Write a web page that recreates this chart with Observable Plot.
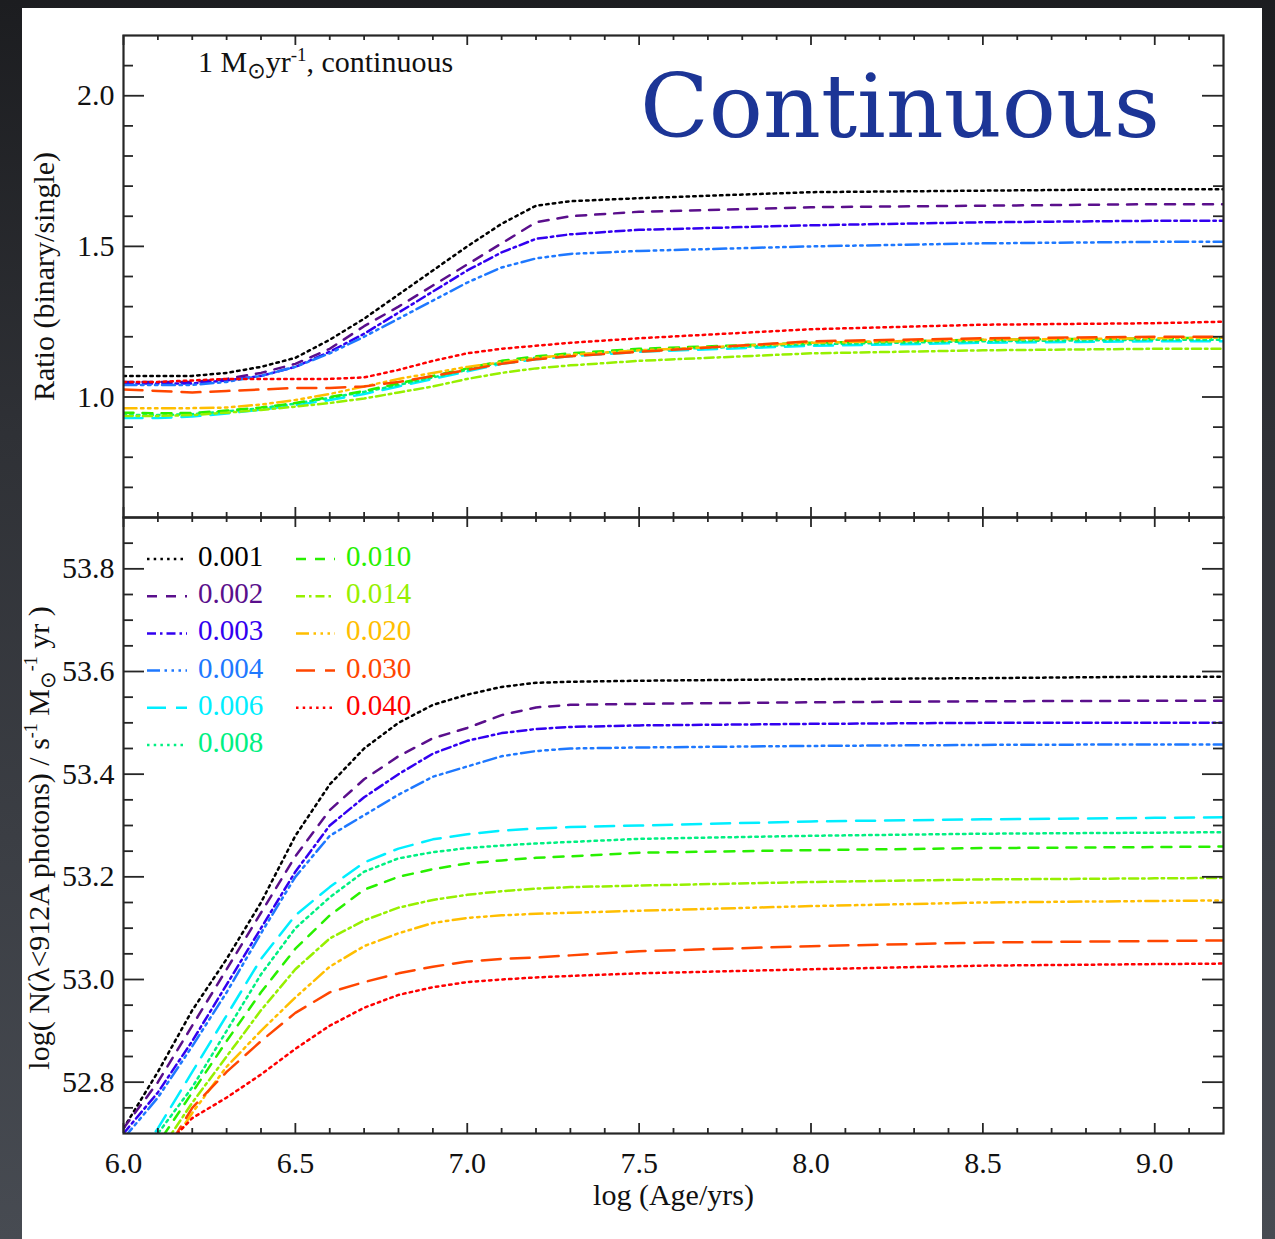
<!DOCTYPE html>
<html><head><meta charset="utf-8">
<script src="https://cdn.jsdelivr.net/npm/d3@7"></script>
<script src="https://cdn.jsdelivr.net/npm/@observablehq/plot@0.6"></script>
<style>
html,body{margin:0;padding:0;width:1275px;height:1239px;overflow:hidden;background:linear-gradient(#1c1d20,#2f3136 35%,#474b52);}
#paper{position:absolute;left:22px;top:8px;width:1240px;height:1231px;background:#fff;}
#bottom,#top{position:absolute;left:0;top:0;}
</style></head><body>
<div id="paper"></div><div id="bottom"></div><div id="top"></div>
<script>
// ---------------- data ----------------
const ages = [6.0,6.1,6.2,6.3,6.4,6.5,6.6,6.7,6.8,6.9,7.0,7.1,7.2,7.3,7.5,8.0,8.5,9.0,9.2];
const metallicities = ["0.001","0.002","0.003","0.004","0.006","0.008","0.010","0.014","0.020","0.030","0.040"];
const lineColors = ["#000000","#5a0f8c","#3200f0","#1e78ff","#00eeff","#00f082","#28f000","#96f000","#ffbe00","#ff4600","#ff0000"];
const lineStyles = ["dot","dash","dashdot","dash3dot","longdash","dot","dash","dashdot","dash3dot","longdash","dot"];

// Ratio (binary/single)
const ratioZ001 = [1.07,1.07,1.07,1.08,1.10,1.13,1.19,1.26,1.34,1.42,1.50,1.575,1.635,1.65,1.66,1.68,1.685,1.69,1.69];
const ratioZ002 = [1.05,1.05,1.05,1.06,1.08,1.11,1.16,1.235,1.30,1.37,1.44,1.51,1.58,1.60,1.615,1.63,1.635,1.64,1.64];
const ratioZ003 = [1.045,1.045,1.045,1.055,1.07,1.10,1.15,1.21,1.28,1.35,1.42,1.48,1.525,1.54,1.555,1.57,1.58,1.585,1.585];
const ratioZ004 = [1.04,1.04,1.04,1.05,1.07,1.10,1.145,1.20,1.26,1.32,1.38,1.43,1.46,1.475,1.485,1.50,1.51,1.515,1.515];
const ratioZ006 = [0.93,0.93,0.935,0.945,0.958,0.973,0.99,1.01,1.035,1.06,1.085,1.11,1.125,1.135,1.15,1.17,1.18,1.185,1.185];
const ratioZ008 = [0.94,0.94,0.943,0.952,0.963,0.978,0.997,1.017,1.04,1.065,1.09,1.115,1.13,1.14,1.155,1.175,1.185,1.19,1.19];
const ratioZ010 = [0.948,0.946,0.947,0.955,0.965,0.98,1.0,1.02,1.045,1.07,1.095,1.12,1.135,1.145,1.16,1.18,1.19,1.195,1.197];
const ratioZ014 = [0.937,0.937,0.94,0.948,0.957,0.968,0.98,0.995,1.015,1.035,1.06,1.08,1.095,1.105,1.12,1.145,1.155,1.16,1.16];
const ratioZ020 = [0.963,0.963,0.963,0.965,0.975,0.99,1.01,1.035,1.06,1.08,1.10,1.115,1.13,1.14,1.155,1.18,1.19,1.195,1.197];
const ratioZ030 = [1.025,1.02,1.015,1.02,1.025,1.03,1.03,1.035,1.05,1.07,1.09,1.11,1.125,1.135,1.15,1.185,1.195,1.20,1.20];
const ratioZ040 = [1.05,1.05,1.055,1.06,1.06,1.06,1.06,1.065,1.09,1.12,1.145,1.16,1.17,1.18,1.195,1.225,1.24,1.245,1.25];

// log N(ionising photons)
const photZ001 = [52.71,52.82,52.94,53.04,53.15,53.28,53.38,53.45,53.50,53.535,53.555,53.57,53.578,53.58,53.582,53.585,53.587,53.59,53.59];
const photZ002 = [52.71,52.80,52.91,53.02,53.13,53.24,53.33,53.39,53.435,53.47,53.49,53.515,53.53,53.535,53.537,53.54,53.542,53.543,53.543];
const photZ003 = [52.70,52.78,52.88,52.99,53.10,53.21,53.30,53.355,53.40,53.44,53.465,53.48,53.488,53.492,53.495,53.498,53.50,53.50,53.50];
const photZ004 = [52.69,52.77,52.87,52.975,53.09,53.20,53.28,53.32,53.36,53.395,53.415,53.435,53.445,53.45,53.452,53.455,53.457,53.458,53.458];
const photZ006 = [52.61,52.71,52.82,52.93,53.04,53.125,53.18,53.228,53.255,53.273,53.283,53.29,53.294,53.297,53.30,53.308,53.312,53.315,53.316];
const photZ008 = [52.59,52.70,52.79,52.90,53.01,53.10,53.16,53.21,53.236,53.248,53.256,53.261,53.265,53.268,53.274,53.28,53.284,53.286,53.287];
const photZ010 = [52.57,52.68,52.78,52.88,52.975,53.06,53.125,53.175,53.20,53.215,53.226,53.232,53.237,53.24,53.247,53.252,53.256,53.258,53.259];
const photZ014 = [52.55,52.66,52.76,52.85,52.94,53.02,53.08,53.115,53.14,53.155,53.165,53.172,53.177,53.18,53.183,53.19,53.195,53.197,53.198];
const photZ020 = [52.53,52.64,52.74,52.83,52.90,52.965,53.025,53.065,53.09,53.11,53.12,53.125,53.128,53.13,53.134,53.143,53.15,53.153,53.154];
const photZ030 = [52.54,52.64,52.75,52.82,52.88,52.935,52.975,52.995,53.012,53.025,53.035,53.04,53.043,53.047,53.055,53.065,53.072,53.075,53.076];
const photZ040 = [52.55,52.66,52.73,52.77,52.815,52.865,52.91,52.945,52.97,52.985,52.995,53.0,53.004,53.007,53.012,53.02,53.027,53.03,53.031];

// ticks
const xMajorTicks = [6.0,6.5,7.0,7.5,8.0,8.5,9.0];
const xMinorTicks = [6.1,6.2,6.3,6.4,6.6,6.7,6.8,6.9,7.1,7.2,7.3,7.4,7.6,7.7,7.8,7.9,8.1,8.2,8.3,8.4,8.6,8.7,8.8,8.9,9.1];
const ratioMajorTicks = [1.0,1.5,2.0];
const ratioMinorTicks = [0.7,0.8,0.9,1.1,1.2,1.3,1.4,1.6,1.7,1.8,1.9,2.1];
const photMajorTicks = [52.8,53.0,53.2,53.4,53.6,53.8];
const photMinorTicks = [52.75,52.85,52.9,52.95,53.05,53.1,53.15,53.25,53.3,53.35,53.45,53.5,53.55,53.65,53.7,53.75,53.85];

// ---------------- styling ----------------
const dashPatterns = {dot:"2.5,4.2", dash:"10,9", dashdot:"9,4,2.5,4", dash3dot:"13,4.5,2.5,4.5,2.5,4.5,2.5,4.5", longdash:"19,10"};
const ratioSeries = [ratioZ001,ratioZ002,ratioZ003,ratioZ004,ratioZ006,ratioZ008,ratioZ010,ratioZ014,ratioZ020,ratioZ030,ratioZ040];
const photSeries = [photZ001,photZ002,photZ003,photZ004,photZ006,photZ008,photZ010,photZ014,photZ020,photZ030,photZ040];
const serif = "'Liberation Serif','Times New Roman',serif";
const W = 1275, LEFT = 123, RIGHT = 1223;
const xDom = [6, 9.2];
const pxPerX = (RIGHT-LEFT)/(xDom[1]-xDom[0]);
const frameColor = "#262626";

function lineMarks(series) {
  return series.map((vals, i) => Plot.line(ages.map((a, j) => ({age: a, v: vals[j]})), {
    x: "age", y: "v", stroke: lineColors[i], strokeWidth: 2.5,
    strokeDasharray: dashPatterns[lineStyles[i]], clip: true, curve: "linear"
  }));
}
function tickMarks(yDom, pxPerY, yMaj, yMin) {
  const yl = v => v/pxPerX, xl = v => v/pxPerY;
  const st = {stroke: frameColor, strokeWidth: 1.8};
  return [
    Plot.ruleY(yMaj, {y: d=>d, x1: xDom[0], x2: xDom[0]+yl(21), ...st}),
    Plot.ruleY(yMin, {y: d=>d, x1: xDom[0], x2: xDom[0]+yl(10), ...st}),
    Plot.ruleY(yMaj, {y: d=>d, x1: xDom[1]-yl(21), x2: xDom[1], ...st}),
    Plot.ruleY(yMin, {y: d=>d, x1: xDom[1]-yl(10), x2: xDom[1], ...st}),
    Plot.ruleX(xMajorTicks, {x: d=>d, y1: yDom[0], y2: yDom[0]+xl(10), ...st}),
    Plot.ruleX(xMinorTicks, {x: d=>d, y1: yDom[0], y2: yDom[0]+xl(5), ...st}),
    Plot.ruleX(xMajorTicks, {x: d=>d, y1: yDom[1]-xl(10), y2: yDom[1], ...st}),
    Plot.ruleX(xMinorTicks, {x: d=>d, y1: yDom[1]-xl(5), y2: yDom[1], ...st}),
  ];
}

// ---------------- top panel ----------------
const topDom = [0.6, 2.2];
const topPlot = Plot.plot({
  width: W, height: 530, marginLeft: LEFT, marginRight: W-RIGHT, marginTop: 35, marginBottom: 13,
  x: {domain: xDom, axis: null},
  y: {domain: topDom},
  style: {fontFamily: serif, fontSize: "30px", background: "transparent", overflow: "visible", color: "#111"},
  marks: [
    ...lineMarks(ratioSeries),
    ...tickMarks(topDom, 482/(topDom[1]-topDom[0]), ratioMajorTicks, ratioMinorTicks),
    Plot.axisY({ticks: ratioMajorTicks, tickSize: 0, tickPadding: 9, tickFormat: d=>d.toFixed(1), label: null, fontSize: 30, fontFamily: serif}),
    Plot.text(["Ratio (binary/single)"], {frameAnchor: "left", rotate: -90, dx: -79, textAnchor: "middle", lineAnchor: "middle", fontSize: 30, fontFamily: serif, fill: "#111"}),
    Plot.frame({stroke: frameColor, strokeWidth: 2.2})
  ]
});
document.getElementById("top").appendChild(topPlot);
{
  const svg = d3.select(topPlot);
  const t = svg.append("text").attr("x", 198).attr("y", 72).attr("text-anchor", "start")
    .attr("font-family", serif).attr("font-size", 30).attr("fill", "#111");
  t.append("tspan").text("1 M");
  t.append("tspan").attr("dy", 6).attr("font-size", 22).attr("font-family", "'DejaVu Sans',sans-serif").text("⊙");
  t.append("tspan").attr("dy", -6).text("yr");
  t.append("tspan").attr("dy", -11).attr("font-size", 19).text("-1");
  t.append("tspan").attr("dy", 11).text(", continuous");
  svg.append("text").attr("x", 640).attr("y", 137).attr("text-anchor", "start").attr("font-family", "'DejaVu Serif',serif")
    .attr("font-size", 88).attr("fill", "#1c3596").attr("textLength", 520).attr("lengthAdjust", "spacingAndGlyphs")
    .text("Continuous");
}

// ---------------- bottom panel ----------------
const botDom = [52.7, 53.9];
const botPlot = Plot.plot({
  width: W, height: 1239, marginLeft: LEFT, marginRight: W-RIGHT, marginTop: 517, marginBottom: 106,
  x: {domain: xDom},
  y: {domain: botDom},
  style: {fontFamily: serif, fontSize: "30px", background: "transparent", overflow: "visible", color: "#111"},
  marks: [
    ...lineMarks(photSeries),
    ...tickMarks(botDom, 616/(botDom[1]-botDom[0]), photMajorTicks, photMinorTicks),
    Plot.axisY({ticks: photMajorTicks, tickSize: 0, tickPadding: 9, tickFormat: d=>d.toFixed(1), label: null, fontSize: 30, fontFamily: serif}),
    Plot.axisX({ticks: xMajorTicks, tickSize: 0, tickPadding: 18, tickFormat: d=>d.toFixed(1), label: null, fontSize: 30, fontFamily: serif}),
    Plot.text(["log (Age/yrs)"], {frameAnchor: "bottom", dy: 62, lineAnchor: "middle", textAnchor: "middle", fontSize: 30, fontFamily: serif, fill: "#111"}),
    Plot.frame({stroke: frameColor, strokeWidth: 2.2})
  ]
});
document.getElementById("bottom").appendChild(botPlot);
{
  const svg = d3.select(botPlot);
  // y label with super/subscripts
  const t = svg.append("text").attr("transform", "translate(49,838) rotate(-90)").attr("text-anchor", "middle")
    .attr("font-family", serif).attr("font-size", 30).attr("fill", "#111");
  t.append("tspan").text("log( N(λ<912A photons) / s");
  t.append("tspan").attr("dy", -12).attr("font-size", 18).text("-1");
  t.append("tspan").attr("dy", 12).text(" M");
  t.append("tspan").attr("dy", 6).attr("font-size", 21).attr("font-family", "'DejaVu Sans',sans-serif").text("⊙");
  t.append("tspan").attr("dy", -18).attr("font-size", 18).text("-1");
  t.append("tspan").attr("dy", 12).text(" yr )");
  // legend
  const g = svg.append("g").attr("text-anchor", "start");
  metallicities.forEach((m, i) => {
    const col = i < 6 ? 0 : 1, row = i % 6;
    const cy = 556 + row*37.2;
    const x1 = col ? 296 : 147, x2 = col ? 335 : 187, tx = col ? 346 : 198;
    g.append("line").attr("x1", x1).attr("x2", x2).attr("y1", cy+3).attr("y2", cy+3)
      .attr("stroke", lineColors[i]).attr("stroke-width", 2.5).attr("stroke-dasharray", dashPatterns[lineStyles[i]]);
    g.append("text").attr("x", tx).attr("y", cy+10).attr("text-anchor", "start").attr("font-family", serif).attr("font-size", 29)
      .attr("fill", lineColors[i]).text(m);
  });
}
</script>
</body></html>
